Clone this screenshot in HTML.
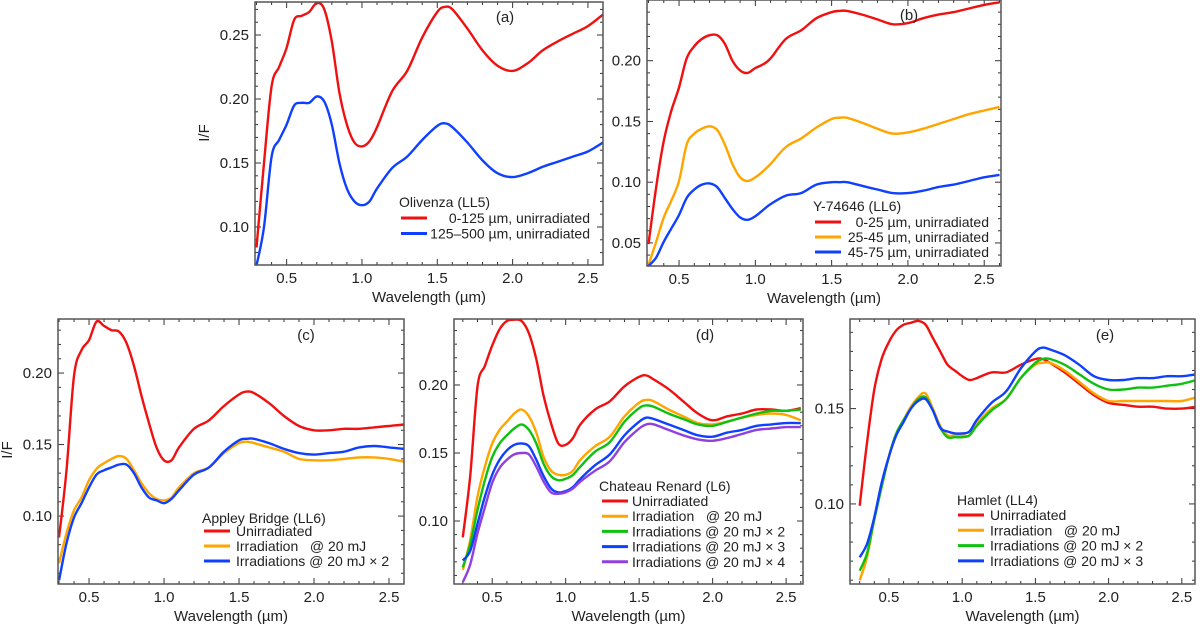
<!DOCTYPE html>
<html><head><meta charset="utf-8">
<style>
html,body{margin:0;padding:0;background:#fff;}
svg{display:block;font-family:"Liberation Sans",Arial,sans-serif;}
text{white-space:pre;}
</style></head>
<body>
<svg id="fig" width="1200" height="625" viewBox="0 0 1200 625" xmlns="http://www.w3.org/2000/svg"></svg>
<script>
// Shared wavelength grid (µm)
const wavelengths = [0.3,0.35,0.4,0.45,0.5,0.55,0.6,0.65,0.7,0.75,0.8,0.85,0.9,0.95,1.0,1.05,1.1,1.2,1.3,1.4,1.5,1.55,1.6,1.7,1.8,1.9,2.0,2.1,2.2,2.3,2.4,2.5,2.6];
const xTickLabels = ["0.5","1.0","1.5","2.0","2.5"];

// Panel (a) Olivenza
const aRed  = [.084,.15,.21,.225,.24,.262,.265,.268,.275,.27,.245,.205,.18,.166,.163,.167,.178,.206,.222,.248,.268,.272,.27,.255,.238,.226,.222,.228,.238,.245,.251,.257,.266];
const aBlue = [.07,.10,.155,.168,.18,.195,.197,.197,.202,.198,.18,.15,.13,.12,.117,.12,.13,.146,.155,.168,.179,.181,.178,.166,.152,.142,.139,.142,.147,.151,.155,.159,.166];
const aYTicks = ["0.10","0.15","0.20","0.25"];
// Panel (b) Y-74646
const bRed    = [.049,.096,.134,.159,.178,.202,.212,.218,.221,.221,.214,.2,.192,.19,.194,.197,.202,.218,.225,.235,.24,.241,.241,.238,.234,.23,.231,.235,.238,.24,.243,.246,.248];
const bOrange = [.032,.051,.071,.085,.101,.131,.14,.144,.146,.143,.131,.115,.104,.101,.104,.109,.115,.129,.136,.145,.152,.153,.153,.149,.144,.14,.141,.144,.148,.152,.156,.159,.162];
const bBlue   = [.031,.038,.051,.062,.073,.087,.094,.098,.099,.096,.087,.078,.071,.069,.072,.077,.082,.089,.091,.098,.1,.1,.1,.097,.094,.091,.091,.093,.096,.098,.101,.104,.106];
const bYTicks = ["0.05","0.10","0.15","0.20"];
// Panel (c) Appley Bridge
const cRed    = [.085,.132,.198,.216,.223,.236,.233,.23,.229,.221,.205,.184,.165,.148,.139,.139,.148,.161,.167,.177,.185,.187,.186,.179,.17,.163,.16,.16,.161,.161,.162,.163,.164];
const cOrange = [.067,.088,.104,.113,.125,.133,.137,.14,.142,.14,.132,.123,.116,.112,.111,.113,.12,.13,.134,.144,.151,.152,.151,.148,.145,.14,.139,.139,.14,.141,.141,.14,.138];
const cBlue   = [.055,.081,.099,.109,.12,.129,.132,.134,.136,.136,.13,.12,.113,.111,.109,.112,.118,.129,.134,.145,.153,.154,.154,.151,.147,.144,.143,.144,.145,.148,.149,.148,.147];
const cYTicks = ["0.10","0.15","0.20"];
// Panel (d) Chateau Renard
const dRed    = [.088,.133,.199,.214,.229,.241,.247,.248,.247,.238,.219,.192,.172,.157,.156,.161,.171,.182,.188,.199,.206,.207,.204,.197,.188,.179,.174,.177,.179,.182,.182,.181,.183];
const dOrange = [.064,.086,.118,.14,.157,.167,.173,.179,.182,.177,.165,.147,.137,.134,.134,.137,.145,.155,.162,.177,.187,.189,.188,.182,.177,.172,.171,.173,.176,.178,.179,.178,.174];
const dGreen  = [.066,.083,.108,.13,.147,.157,.163,.168,.171,.167,.157,.142,.133,.13,.131,.134,.14,.151,.158,.173,.183,.185,.184,.179,.175,.171,.17,.173,.176,.179,.181,.181,.182];
const dBlue   = [.071,.078,.098,.118,.134,.145,.152,.156,.157,.155,.145,.133,.124,.121,.122,.125,.131,.141,.149,.163,.173,.176,.175,.171,.167,.163,.162,.165,.167,.17,.171,.172,.172];
const dPurple = [.055,.068,.091,.11,.128,.139,.145,.149,.15,.149,.14,.129,.121,.12,.121,.124,.129,.137,.144,.158,.168,.171,.171,.167,.163,.16,.159,.161,.164,.167,.168,.169,.169];
const dYTicks = ["0.10","0.15","0.20"];
// Panel (e) Hamlet
const eRed    = [.099,.132,.16,.176,.185,.191,.194,.195,.196,.194,.187,.18,.173,.17,.167,.165,.166,.169,.169,.173,.176,.176,.174,.169,.163,.157,.153,.152,.151,.151,.15,.15,.151];
const eOrange = [.06,.072,.092,.109,.125,.137,.144,.151,.156,.158,.15,.141,.136,.136,.136,.136,.142,.15,.155,.166,.173,.174,.174,.17,.164,.158,.154,.154,.154,.154,.154,.154,.156];
const eGreen  = [.065,.074,.092,.109,.125,.137,.144,.15,.155,.156,.149,.14,.135,.135,.135,.136,.141,.149,.155,.166,.174,.176,.176,.173,.168,.163,.16,.16,.161,.161,.162,.163,.165];
const eBlue   = [.072,.079,.093,.111,.125,.136,.143,.15,.154,.155,.149,.14,.138,.137,.137,.138,.144,.153,.159,.171,.18,.182,.181,.178,.173,.167,.165,.165,.166,.166,.167,.167,.168];
const eYTicks = ["0.10","0.15"];

const RED="#f01010", ORANGE="#ffa500", GREEN="#10c010", BLUE="#1040ff", PURPLE="#9040e0";
const NS="http://www.w3.org/2000/svg";
const svg=document.getElementById('fig');
function mk(tag,attrs,parent){const e=document.createElementNS(NS,tag);for(const k in attrs)e.setAttribute(k,attrs[k]);(parent||svg).appendChild(e);return e;}

function smoothPath(pts){
  let d="M"+pts[0][0].toFixed(1)+","+pts[0][1].toFixed(1);
  for(let i=0;i<pts.length-1;i++){
    const p0=pts[Math.max(0,i-1)],p1=pts[i],p2=pts[i+1],p3=pts[Math.min(pts.length-1,i+2)];
    const c1x=p1[0]+(p2[0]-p0[0])/6,c1y=p1[1]+(p2[1]-p0[1])/6;
    const c2x=p2[0]-(p3[0]-p1[0])/6,c2y=p2[1]-(p3[1]-p1[1])/6;
    d+=" C"+c1x.toFixed(1)+","+c1y.toFixed(1)+" "+c2x.toFixed(1)+","+c2y.toFixed(1)+" "+p2[0].toFixed(1)+","+p2[1].toFixed(1);
  }
  return d;
}

function panel(p){
  const g=mk('g',{});
  
  
  const xs=w=>p.L+(w-p.x0)/(p.x1-p.x0)*(p.R-p.L);
  const ys=v=>p.B-(v-p.y0)/(p.y1-p.y0)*(p.B-p.T);
  const cp=mk('clipPath',{id:'clip'+p.id},g);
  mk('rect',{x:p.L,y:p.T,width:p.R-p.L,height:p.B-p.T},cp);
  const tg=mk('g',{stroke:'#333','stroke-width':1},g);
  
  
  for(let k=Math.ceil(p.x0*10);k<=Math.floor(p.x1*10);k++){
    const X=xs(k/10), len=(k%5===0)?6:3;
    mk('line',{x1:X,y1:p.B,x2:X,y2:p.B-len},tg);
    mk('line',{x1:X,y1:p.T,x2:X,y2:p.T+len},tg);
  }
  for(let k=Math.ceil(p.y0*100);k<=Math.floor(p.y1*100);k++){
    const Y=ys(k/100), len=(k%5===0)?6:3;
    mk('line',{x1:p.L,y1:Y,x2:p.L+len,y2:Y},tg);
    mk('line',{x1:p.R,y1:Y,x2:p.R-len,y2:Y},tg);
  }
  xTickLabels.forEach(t=>{
    const el=mk('text',{x:xs(parseFloat(t)),y:p.B+18,'text-anchor':'middle','font-size':15,fill:'#222'},g);
    el.textContent=t;
    
    
  });
  p.yTicks.forEach(t=>{
    const el=mk('text',{x:p.L-6,y:ys(parseFloat(t))+5,'text-anchor':'end','font-size':15,fill:'#222'},g);
    el.textContent=t;
    
    
  });
  const xt=mk('text',{x:(p.L+p.R)/2,y:p.B+37,'text-anchor':'middle','font-size':15,fill:'#222'},g);
  xt.textContent="Wavelength (µm)";
  
  
  if(p.ylab){
    const yt=mk('text',{x:p.ylab[0],y:p.ylab[1],'text-anchor':'middle','font-size':15,fill:'#222',transform:'rotate(-90 '+p.ylab[0]+' '+p.ylab[1]+')'},g);
    yt.textContent="I/F";
    
    
  }
  const sg=mk('g',{'clip-path':'url(#clip'+p.id+')'},g);
  p.series.forEach(s=>{
    const pts=wavelengths.map((w,i)=>[xs(w),ys(s.v[i])]);
    const path=mk('path',{d:smoothPath(pts),fill:'none',stroke:s.c,'stroke-width':2.4,'stroke-linejoin':'round'},sg);
    
    
  });
  const fr=mk('rect',{x:p.L,y:p.T,width:p.R-p.L,height:p.B-p.T,fill:'none',stroke:'#555','stroke-width':1.5},g);
  
  
  const pl=mk('text',{x:p.letter[0],y:p.letter[1],'text-anchor':'middle','font-size':15,fill:'#222'},g);
  pl.textContent="("+p.id+")";
  
  
  const lg=mk('g',{},g);
  
  
  const lt=mk('text',{x:p.leg.x,y:p.leg.y,'font-size':14,fill:'#222'},lg);
  lt.textContent=p.leg.title;
  
  
  p.series.forEach((s,i)=>{
    const Y=p.leg.y0+i*p.leg.dy;
    const ln=mk('line',{x1:p.leg.lx,y1:Y,x2:p.leg.lx+26,y2:Y,stroke:s.c,'stroke-width':3},lg);
    
    
    const attrs={y:Y+5,'font-size':14,fill:'#222'};
    if(p.leg.right){attrs.x=p.leg.right;attrs['text-anchor']='end';}else{attrs.x=p.leg.tx;}
    const tx=mk('text',attrs,lg);
    tx.textContent=s.label;
    
    
  });
}

panel({id:'a',L:255,R:603,T:2,B:265,x0:0.29,x1:2.6,y0:0.0703,y1:0.2758,yTicks:aYTicks,ylab:[209,133],letter:[505,22],
  leg:{title:"Olivenza (LL5)",x:399,y:207,lx:401,y0:218,dy:15.5,right:590},
  series:[{n:'red',c:RED,v:aRed,label:"0-125 µm, unirradiated"},{n:'blue',c:BLUE,v:aBlue,label:"125–500 µm, unirradiated"}]});
panel({id:'b',L:647,R:1001,T:0,B:266,x0:0.29,x1:2.61,y0:0.031,y1:0.25,yTicks:bYTicks,ylab:null,letter:[909,20],
  leg:{title:"Y-74646 (LL6)",x:813,y:211,lx:815,y0:222,dy:15,right:989},
  series:[{n:'red',c:RED,v:bRed,label:"0-25 µm, unirradiated"},{n:'orange',c:ORANGE,v:bOrange,label:"25-45 µm, unirradiated"},{n:'blue',c:BLUE,v:bBlue,label:"45-75 µm, unirradiated"}]});
panel({id:'c',L:58,R:404,T:319,B:584,x0:0.293,x1:2.6,y0:0.0525,y1:0.2378,yTicks:cYTicks,ylab:[12,450],letter:[306,340],
  leg:{title:"Appley Bridge (LL6)",x:202,y:523,lx:204,tx:236,y0:531,dy:15},
  series:[{n:'red',c:RED,v:cRed,label:"Unirradiated"},{n:'orange',c:ORANGE,v:cOrange,label:"Irradiation   @ 20 mJ"},{n:'blue',c:BLUE,v:cBlue,label:"Irradiations @ 20 mJ × 2"}]});
panel({id:'d',L:454,R:803,T:319,B:584,x0:0.24,x1:2.615,y0:0.0537,y1:0.2485,yTicks:dYTicks,ylab:null,letter:[705,340],
  leg:{title:"Chateau Renard (L6)",x:599,y:491,lx:602,tx:632,y0:501,dy:15.2},
  series:[{n:'red',c:RED,v:dRed,label:"Unirradiated"},{n:'orange',c:ORANGE,v:dOrange,label:"Irradiation   @ 20 mJ"},{n:'green',c:GREEN,v:dGreen,label:"Irradiations @ 20 mJ × 2"},{n:'blue',c:BLUE,v:dBlue,label:"Irradiations @ 20 mJ × 3"},{n:'purple',c:PURPLE,v:dPurple,label:"Irradiations @ 20 mJ × 4"}]});
panel({id:'e',L:850,R:1195,T:319,B:584,x0:0.234,x1:2.59,y0:0.058,y1:0.197,yTicks:eYTicks,ylab:null,letter:[1105,340],
  leg:{title:"Hamlet (LL4)",x:957,y:505,lx:958,tx:990,y0:515,dy:15.3},
  series:[{n:'red',c:RED,v:eRed,label:"Unirradiated"},{n:'orange',c:ORANGE,v:eOrange,label:"Irradiation   @ 20 mJ"},{n:'green',c:GREEN,v:eGreen,label:"Irradiations @ 20 mJ × 2"},{n:'blue',c:BLUE,v:eBlue,label:"Irradiations @ 20 mJ × 3"}]});
</script>
</body></html>
